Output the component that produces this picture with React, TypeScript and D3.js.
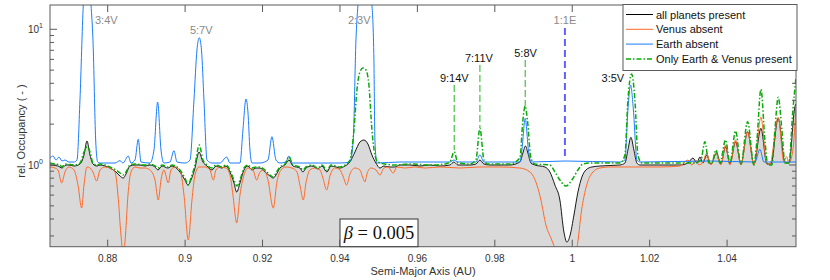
import React from 'react';
import * as d3 from 'd3';

type P = [number, number];

const xTicks = [0.88, 0.9, 0.92, 0.94, 0.96, 0.98, 1, 1.02, 1.04];
const xTickLabels = ['0.88', '0.9', '0.92', '0.94', '0.96', '0.98', '1', '1.02', '1.04'];
const yMajor = [1, 10];
const yMajorExp = ['0', '1'];
const yMinor = [0.3, 0.4, 0.5, 0.6, 0.7, 0.8, 0.9, 2, 3, 4, 5, 6, 7, 8, 9];

const seriesNames = ['all planets present', 'Venus absent', 'Earth absent', 'Only Earth & Venus present'];

const allPlanets: P[] = [
  [0.86510,1.0],[0.86716,0.983],[0.86820,0.950],[0.86923,1.0],[0.87000,1.0],[0.87130,0.983],[0.87284,1.017],[0.87388,1.185],[0.87465,1.503],[0.87543,1.185],[0.87620,1.017],[0.87724,0.983],[0.87801,1.0],[0.87930,0.983],[0.88059,0.950],[0.88214,0.888],[0.88318,0.830],[0.88403,0.802],[0.88473,0.858],[0.88576,0.983],[0.88705,1.0],[0.88834,1.0],[0.88963,0.983],[0.89092,1.0],[0.89222,0.967],[0.89299,0.919],[0.89402,0.983],[0.89557,0.950],[0.89661,0.983],[0.89867,0.888],[0.89996,0.775],[0.90074,0.712],[0.90151,0.775],[0.90255,0.950],[0.90358,1.247],[0.90461,1.052],[0.90565,0.983],[0.90694,0.919],[0.90797,0.983],[0.90952,0.950],[0.91055,0.983],[0.91159,0.888],[0.91262,0.737],[0.91332,0.632],[0.91417,0.737],[0.91520,0.919],[0.91623,0.983],[0.91727,0.919],[0.91830,0.950],[0.91933,0.950],[0.92062,0.888],[0.92191,0.830],[0.92277,0.802],[0.92347,0.844],[0.92450,0.950],[0.92579,1.0],[0.92682,1.088],[0.92786,0.983],[0.92966,0.950],[0.93044,0.888],[0.93121,0.950],[0.93276,0.983],[0.93431,0.935],[0.93534,0.983],[0.93663,0.888],[0.93767,0.983],[0.93896,0.967],[0.93999,0.950],[0.94128,0.983],[0.94257,1.052],[0.94387,1.247],[0.94516,1.477],[0.94619,1.528],[0.94722,1.428],[0.94826,1.185],[0.94929,1.034],[0.95032,0.950],[0.95136,0.983],[0.95290,0.967],[0.95419,0.967],[0.95549,1.0],[0.95807,1.0],[0.96065,0.983],[0.96323,1.0],[0.96582,0.983],[0.96840,1.0],[0.96943,1.052],[0.97047,1.0],[0.97357,1.0],[0.97512,1.017],[0.97615,1.088],[0.97719,1.017],[0.97873,1.0],[0.98390,1.0],[0.98648,1.052],[0.98726,1.226],[0.98791,1.380],[0.98855,1.226],[0.98933,1.034],[0.99036,1.0],[0.99294,0.967],[0.99423,0.888],[0.99552,0.712],[0.99681,0.552],[0.99785,0.321],[0.99862,0.270],[0.99940,0.300],[1.00044,0.428],[1.00147,0.632],[1.00250,0.816],[1.00353,0.919],[1.00508,0.967],[1.00715,0.983],[1.01232,1.0],[1.01361,1.034],[1.01438,1.290],[1.01515,1.600],[1.01593,1.290],[1.01670,1.034],[1.01748,1.0],[1.02265,1.0],[1.02781,1.0],[1.02988,1.034],[1.03117,1.126],[1.03220,1.034],[1.03298,1.145],[1.03375,1.034],[1.03471,1.185],[1.03582,1.017],[1.03729,1.226],[1.03840,1.017],[1.03962,1.364],[1.04073,1.017],[1.04220,1.485],[1.04357,1.017],[1.04530,1.760],[1.04693,1.017],[1.04874,1.864],[1.05029,1.017],[1.05132,1.017],[1.05320,2.209],[1.05493,1.052],[1.05597,1.034],[1.05752,2.689],[1.05778,2.816]
];

const venusAbsent: P[] = [
  [0.86510,0.967],[0.86639,0.950],[0.86716,0.919],[0.86812,0.737],[0.86897,0.888],[0.87000,0.967],[0.87130,0.919],[0.87233,0.712],[0.87328,0.482],[0.87388,0.712],[0.87465,0.967],[0.87543,0.950],[0.87620,0.888],[0.87716,0.762],[0.87801,0.919],[0.87930,0.967],[0.88059,0.950],[0.88189,0.888],[0.88266,0.601],[0.88343,0.305],[0.88403,0.217],[0.88460,0.305],[0.88524,0.601],[0.88602,0.888],[0.88705,0.967],[0.88834,0.950],[0.88963,0.950],[0.89092,0.919],[0.89222,0.775],[0.89307,0.552],[0.89377,0.775],[0.89454,0.919],[0.89565,0.737],[0.89635,0.919],[0.89738,0.967],[0.89867,0.919],[0.89971,0.601],[0.90082,0.280],[0.90177,0.552],[0.90255,0.844],[0.90358,0.967],[0.90513,0.967],[0.90642,0.919],[0.90728,0.775],[0.90797,0.919],[0.90900,0.967],[0.91055,0.950],[0.91159,0.844],[0.91236,0.601],[0.91332,0.374],[0.91417,0.601],[0.91520,0.844],[0.91623,0.950],[0.91753,0.919],[0.91848,0.775],[0.91933,0.888],[0.92037,0.919],[0.92140,0.775],[0.92277,0.482],[0.92372,0.750],[0.92476,0.919],[0.92605,0.967],[0.92760,0.950],[0.92889,0.888],[0.92966,0.712],[0.93052,0.552],[0.93121,0.737],[0.93224,0.919],[0.93353,0.950],[0.93482,0.919],[0.93560,0.802],[0.93656,0.654],[0.93741,0.830],[0.93870,0.950],[0.93999,0.919],[0.94077,0.830],[0.94172,0.712],[0.94257,0.858],[0.94387,0.950],[0.94516,0.919],[0.94593,0.802],[0.94645,0.750],[0.94697,0.858],[0.94800,0.950],[0.94929,0.919],[0.95032,0.844],[0.95136,0.950],[0.95239,0.967],[0.95376,0.873],[0.95471,0.967],[0.95678,0.950],[0.95936,0.967],[0.96194,0.950],[0.96582,0.967],[0.97098,0.950],[0.97615,0.967],[0.98132,0.967],[0.98648,0.950],[0.98907,0.888],[0.99088,0.712],[0.99191,0.552],[0.99320,0.361],[0.99449,0.290],[0.99552,0.245],[0.99681,0.21],[0.99940,0.19],[1.00044,0.21],[1.00121,0.245],[1.00242,0.466],[1.00353,0.677],[1.00534,0.888],[1.00715,0.950],[1.00973,0.967],[1.01748,0.967],[1.02265,0.967],[1.02781,0.983],[1.02988,1.088],[1.03091,1.0],[1.03194,1.088],[1.03272,1.0],[1.03375,1.052],[1.03471,1.220],[1.03582,1.0],[1.03711,1.226],[1.03840,1.0],[1.03962,1.404],[1.04073,1.0],[1.04220,1.528],[1.04357,1.0],[1.04530,1.760],[1.04693,1.0],[1.04874,2.246],[1.05029,1.017],[1.05106,1.017],[1.05320,2.246],[1.05468,1.052],[1.05537,1.151],[1.05597,1.034],[1.05700,1.290],[1.05778,2.689]
];

const earthAbsent: P[] = [
  [0.86510,1.126],[0.86587,1.165],[0.86665,1.088],[0.86742,1.145],[0.86820,1.070],[0.86897,1.088],[0.87000,1.052],[0.87130,1.052],[0.87207,1.088],[0.87284,3.013],[0.87370,15.1],[0.87465,30],[0.87569,15.1],[0.87620,8.34],[0.87690,1.528],[0.87742,1.052],[0.87801,1.034],[0.88189,1.034],[0.88318,1.076],[0.88395,1.034],[0.88532,1.165],[0.88602,1.034],[0.88705,1.088],[0.88790,1.546],[0.88860,1.052],[0.89092,1.034],[0.89196,1.290],[0.89291,2.912],[0.89377,1.290],[0.89454,1.034],[0.89609,1.052],[0.89712,1.275],[0.89790,1.052],[0.89996,1.034],[0.90126,1.088],[0.90229,3.013],[0.90306,7.04],[0.90366,8.67],[0.90423,7.04],[0.90487,3.013],[0.90565,1.088],[0.90694,1.034],[0.90900,1.034],[0.91073,1.145],[0.91159,1.034],[0.91417,1.034],[0.91494,1.811],[0.91572,3.064],[0.91623,2.458],[0.91675,1.290],[0.91727,1.034],[0.91933,1.034],[0.92140,1.088],[0.92243,1.616],[0.92347,1.088],[0.92450,1.034],[0.92605,1.052],[0.92682,1.165],[0.92760,1.034],[0.93482,1.034],[0.93999,1.034],[0.94257,1.052],[0.94343,1.528],[0.94413,8.34],[0.94464,15.1],[0.94619,40],[0.94826,15.1],[0.94877,5.94],[0.94903,1.528],[0.94955,1.034],[0.95549,1.052],[0.96840,1.052],[0.96943,1.088],[0.97047,1.052],[0.97512,1.052],[0.97615,1.185],[0.97719,1.052],[0.98648,1.052],[0.98700,1.290],[0.98785,2.209],[0.98868,1.290],[0.98933,1.052],[0.99811,1.070],[1.01232,1.052],[1.01361,1.088],[1.01438,2.543],[1.01507,3.887],[1.01580,2.543],[1.01670,1.088],[1.01748,1.052],[1.03556,1.070],[1.04719,1.052],[1.04848,1.305],[1.04951,1.052],[1.05778,1.052]
];

const onlyEarthVenus: P[] = [
  [0.86510,1.034],[0.86639,1.017],[0.86768,1.0],[0.86820,0.967],[0.86897,1.017],[0.87130,1.0],[0.87284,1.034],[0.87388,1.247],[0.87473,1.364],[0.87543,1.247],[0.87620,1.034],[0.87724,1.0],[0.87801,1.017],[0.87930,1.0],[0.88059,0.967],[0.88214,0.919],[0.88318,0.873],[0.88395,0.844],[0.88473,0.888],[0.88576,1.0],[0.88705,1.017],[0.88963,1.0],[0.89092,1.017],[0.89222,0.983],[0.89299,0.950],[0.89402,1.0],[0.89557,0.967],[0.89661,1.0],[0.89867,0.919],[0.89996,0.802],[0.90082,0.712],[0.90151,0.802],[0.90255,1.0],[0.90366,1.404],[0.90461,1.088],[0.90565,1.0],[0.90694,0.950],[0.90797,1.0],[0.90952,0.967],[0.91055,1.0],[0.91159,0.919],[0.91262,0.775],[0.91340,0.700],[0.91417,0.775],[0.91520,0.950],[0.91623,1.0],[0.91727,0.950],[0.91830,0.967],[0.91933,0.967],[0.92062,0.919],[0.92191,0.844],[0.92277,0.816],[0.92347,0.873],[0.92450,0.967],[0.92579,1.017],[0.92682,1.151],[0.92786,1.0],[0.92966,0.967],[0.93044,0.919],[0.93121,0.967],[0.93276,1.0],[0.93431,0.950],[0.93534,1.0],[0.93663,0.919],[0.93767,1.0],[0.93999,0.967],[0.94128,1.0],[0.94257,1.088],[0.94361,1.811],[0.94438,3.57],[0.94516,4.85],[0.94593,5.19],[0.94671,5.01],[0.94748,3.887],[0.94826,1.811],[0.94903,1.185],[0.94981,1.052],[0.95161,1.017],[0.95419,1.0],[0.95807,1.017],[0.96323,1.0],[0.96711,1.017],[0.96840,1.052],[0.96951,1.253],[0.97047,1.034],[0.97357,1.017],[0.97512,1.088],[0.97615,1.864],[0.97719,1.088],[0.97822,1.017],[0.98390,1.017],[0.98648,1.126],[0.98726,2.146],[0.98785,2.721],[0.98842,2.146],[0.98933,1.126],[0.99036,1.017],[0.99423,1.0],[0.99552,0.888],[0.99681,0.775],[0.99837,0.700],[0.99991,0.775],[1.00147,0.919],[1.00276,1.017],[1.00457,1.034],[1.01232,1.034],[1.01361,1.185],[1.01438,3.013],[1.01533,4.685],[1.01619,3.013],[1.01696,1.185],[1.01800,1.034],[1.03169,1.034],[1.03324,1.088],[1.03427,1.485],[1.03530,1.034],[1.03608,1.034],[1.03711,1.290],[1.03814,1.034],[1.03962,1.528],[1.04073,1.034],[1.04220,1.780],[1.04357,1.017],[1.04530,2.085],[1.04693,1.0],[1.04771,1.528],[1.04874,3.613],[1.04977,1.528],[1.05055,1.0],[1.05158,1.0],[1.05235,1.811],[1.05320,3.155],[1.05416,1.811],[1.05493,1.034],[1.05597,1.034],[1.05700,2.543],[1.05778,4.377]
];

// resonance labels: text, position (AU), label height (rel. occupancy), colour group
const resLabels: { text: string; a: number; v: number; grey: boolean; anchor: string }[] = [
  { text: '3:4V', a: 0.87672, v: 10.94, grey: true, anchor: 'start' },
  { text: '5:7V', a: 0.90125, v: 9.23, grey: true, anchor: 'start' },
  { text: '2:3V', a: 0.94206, v: 10.94, grey: true, anchor: 'start' },
  { text: '1:1E', a: 0.99811, v: 10.94, grey: true, anchor: 'middle' },
  { text: '9:14V', a: 0.96582, v: 4.07, grey: false, anchor: 'start' },
  { text: '7:11V', a: 0.97228, v: 5.71, grey: false, anchor: 'start' },
  { text: '5:8V', a: 0.98501, v: 6.28, grey: false, anchor: 'start' },
  { text: '3:5V', a: 1.00758, v: 4.07, grey: false, anchor: 'start' },
];
// dashed resonance markers: position, from, to
const greenMarkers: [number, number, number][] = [
  [0.96951, 3.887, 1.29],
  [0.97615, 5.46, 1.874],
  [0.98785, 5.94, 2.72],
];
const earthMarker: [number, number, number] = [0.99811, 10.2, 1.126];

const betaText = 'β = 0.005';

export default function App() {
  const W = 830, H = 280;
  const L = 50, R = 796, T = 5, B = 246.7;
  const x = d3.scaleLinear().domain([0.8651, 1.0578]).range([L, R]);
  const y = d3.scaleLog().domain([0.25, 15.1]).range([B, T]);

  const line = d3.line<P>().x(d => x(d[0])).y(d => y(d[1])).curve(d3.curveMonotoneX);
  const area = d3.area<P>().x(d => x(d[0])).y0(B).y1(d => y(d[1])).curve(d3.curveMonotoneX);

  const black = '#000000';
  const orange = '#ff6a2a';
  const blue = '#1a7dff';
  const green = '#0aaa0a';
  const axisCol = '#5a5a5a';
  const textCol = '#333333';
  const font = 'Liberation Sans, Arial, Helvetica, sans-serif';

  const legendItems = [
    { name: seriesNames[0], color: black, dash: undefined as string | undefined, w: 1 },
    { name: seriesNames[1], color: orange, dash: undefined, w: 1 },
    { name: seriesNames[2], color: blue, dash: undefined, w: 1 },
    { name: seriesNames[3], color: green, dash: '5,2,1.5,2', w: 1.5 },
  ];

  return (
    <svg width={W} height={H} style={{ position: 'absolute', left: 0, top: 0, background: '#fff' }} fontFamily={font}>
      <defs>
        <clipPath id="plotClip">
          <rect x={L} y={T} width={R - L} height={B - T} />
        </clipPath>
      </defs>
      <rect x={0} y={0} width={W} height={H} fill="#fff" />
      <g clipPath="url(#plotClip)">
        <path d={area(allPlanets) || ''} fill="#d9d9d9" stroke="none" />
        <path d={line(allPlanets) || ''} fill="none" stroke={black} strokeWidth={0.9} />
        <path d={line(venusAbsent) || ''} fill="none" stroke={orange} strokeWidth={1} />
        <path d={line(earthAbsent) || ''} fill="none" stroke={blue} strokeWidth={1} />
        <path d={line(onlyEarthVenus) || ''} fill="none" stroke={green} strokeWidth={1.5} strokeDasharray="5,2,1.5,2" />
        {greenMarkers.map((m, i) => (
          <line key={i} x1={x(m[0])} x2={x(m[0])} y1={y(m[1])} y2={y(m[2])} stroke={green} strokeWidth={0.9} strokeDasharray="7,3" />
        ))}
        <line x1={x(earthMarker[0])} x2={x(earthMarker[0])} y1={y(earthMarker[1])} y2={y(earthMarker[2])} stroke="#6060ff" strokeWidth={2} strokeDasharray="7,4" />
      </g>
      {/* axes box */}
      <rect x={L} y={T} width={R - L} height={B - T} fill="none" stroke={axisCol} strokeWidth={1} />
      {xTicks.map((t, i) => (
        <g key={'xt' + i}>
          <line x1={x(t)} x2={x(t)} y1={B} y2={B - 7} stroke={axisCol} />
          <line x1={x(t)} x2={x(t)} y1={T} y2={T + 7} stroke={axisCol} />
          <text x={x(t)} y={262} textAnchor="middle" fontSize={10} fill={textCol}>{xTickLabels[i]}</text>
        </g>
      ))}
      {yMajor.map((t, i) => (
        <g key={'ym' + i}>
          <line x1={L} x2={L + 7} y1={y(t)} y2={y(t)} stroke={axisCol} />
          <line x1={R} x2={R - 7} y1={y(t)} y2={y(t)} stroke={axisCol} />
          <text x={L - 7} y={y(t) + 4} textAnchor="end" fontSize={10} fill={textCol}>
            10<tspan dy={-5} fontSize={7}>{yMajorExp[i]}</tspan>
          </text>
        </g>
      ))}
      {yMinor.map((t, i) => (
        <g key={'yn' + i}>
          <line x1={L} x2={L + 4} y1={y(t)} y2={y(t)} stroke={axisCol} />
          <line x1={R} x2={R - 4} y1={y(t)} y2={y(t)} stroke={axisCol} />
        </g>
      ))}
      <text x={423} y={275} textAnchor="middle" fontSize={11} fill={textCol}>Semi-Major Axis (AU)</text>
      <text transform="translate(25,131) rotate(-90)" textAnchor="middle" fontSize={11} fill={textCol}>rel. Occupancy ( - )</text>
      {resLabels.map((r, i) => (
        <text key={'rl' + i} x={x(r.a)} y={y(r.v)} textAnchor={r.anchor} fontSize={11} fill={r.grey ? '#8a8a8a' : '#111'}>{r.text}</text>
      ))}
      {/* legend */}
      <rect x={623} y={4.5} width={174} height={66} fill="#fff" stroke={axisCol} strokeWidth={1} />
      {legendItems.map((it, i) => (
        <g key={'lg' + i}>
          <line x1={626} x2={653} y1={14.5 + i * 14.8} y2={14.5 + i * 14.8} stroke={it.color} strokeWidth={it.w} strokeDasharray={it.dash} />
          <text x={656} y={18.5 + i * 14.8} fontSize={11} fill="#111">{it.name}</text>
        </g>
      ))}
      {/* beta box */}
      <rect x={340} y={219} width={78} height={B - 219} fill="#fff" stroke="#333" strokeWidth={1} />
      <text x={379} y={238.5} textAnchor="middle" fontSize={18.5} fontFamily="Liberation Serif, Times New Roman, serif" fill="#111">
        <tspan fontStyle="italic">{betaText.slice(0, 1)}</tspan>{betaText.slice(1)}
      </text>
    </svg>
  );
}
